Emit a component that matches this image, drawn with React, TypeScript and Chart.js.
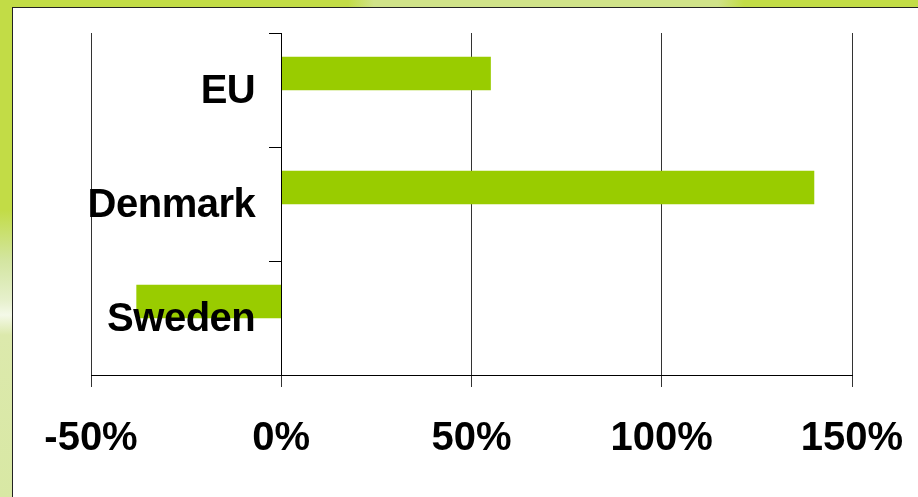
import React, { useEffect, useRef } from "react";
import { Chart, registerables } from "chart.js";

Chart.register(...registerables);

const categories = ["EU", "Denmark", "Sweden"];
const changeValues = [55, 140, -38];
const spacerValues: (number | null)[] = [null, null, null];
const xTickValues = [-50, 0, 50, 100, 150];

const fontFamily = "'Liberation Sans', Arial, sans-serif";
const labelFont = { family: fontFamily, size: 40, weight: "bold" as const };

// Category labels drawn left of the value-axis origin (axis crosses at 0 %), on top of the bars
const categoryLabelPlugin = {
  id: "categoryLabels",
  afterDatasetsDraw(chart: any) {
    const { ctx, scales } = chart;
    const x = scales.x;
    const y = scales.y;
    const right = x.getPixelForValue(0) - 12 - 14;
    ctx.save();
    ctx.font = `bold 40px ${fontFamily}`;
    try {
      (ctx as any).letterSpacing = "-0.5px";
    } catch (e) {}
    ctx.fillStyle = "#000";
    ctx.textAlign = "right";
    ctx.textBaseline = "middle";
    categories.forEach((c, i) => {
      ctx.fillText(c, right, y.getPixelForValue(i) + 2);
    });
    ctx.restore();
  },
};

export default function App() {
  const ref = useRef<HTMLCanvasElement>(null);

  useEffect(() => {
    document.body.style.margin = "0";
    const chart = new Chart(ref.current!, {
      type: "bar",
      data: {
        labels: categories,
        datasets: [
          {
            data: changeValues,
            backgroundColor: "#99cc00",
            borderWidth: 0,
            barThickness: 33,
          },
          {
            data: spacerValues as any,
            backgroundColor: "rgba(0,0,0,0)",
            borderWidth: 0,
            barThickness: 33,
          },
        ],
      },
      plugins: [categoryLabelPlugin],
      options: {
        indexAxis: "y",
        responsive: false,
        animation: false,
        events: [],
        layout: { padding: { left: 91, right: 66, top: 33, bottom: 0 } },
        plugins: { legend: { display: false }, tooltip: { enabled: false } },
        scales: {
          x: {
            type: "linear",
            min: xTickValues[0],
            max: xTickValues[xTickValues.length - 1],
            afterBuildTicks: (scale: any) => {
              scale.ticks = xTickValues.map((v) => ({ value: v }));
            },
            afterFit: (scale: any) => {
              scale.height = 122;
              scale.paddingLeft = 0;
              scale.paddingRight = 0;
            },
            ticks: {
              callback: (v: any) => v + "%",
              font: labelFont,
              color: "#000",
              padding: 28,
              maxRotation: 0,
              autoSkip: false,
            },
            grid: { color: "#333", lineWidth: 1, tickLength: 12, drawTicks: true },
            border: { color: "#000", width: 1 },
          },
          y: {
            type: "category",
            position: { x: 0 } as any,
            offset: true,
            afterFit: (scale: any) => {
              scale.paddingTop = 0;
              scale.paddingBottom = 0;
            },
            grid: { offset: true, drawOnChartArea: false, drawTicks: true, tickLength: 12, color: "#000" },
            border: { color: "#000", width: 1, z: 1 },
            ticks: { display: false },
          },
        },
      },
    });
    return () => chart.destroy();
  }, []);

  return (
    <div style={{ position: "absolute", left: 0, top: 0, width: 918, height: 497, overflow: "hidden" }}>
      <div
        style={{
          position: "absolute",
          left: 0,
          top: 0,
          width: 918,
          height: 8,
          background:
            "linear-gradient(to right, #c2dc46 0px, #c2dc46 348px, #d0e389 374px, #d0e389 718px, #c2dc46 744px, #c2dc46 918px)",
        }}
      />
      <div
        style={{
          position: "absolute",
          left: 0,
          top: 0,
          width: 13,
          height: 497,
          background:
            "linear-gradient(to bottom, #c2dc46 0px, #c2dc46 210px, #d3e5a0 260px, #e6f0cc 300px, #f4f9e8 315px, #dce9ac 335px, #d8e8a4 497px)",
        }}
      />
      <div
        style={{
          position: "absolute",
          left: 12,
          top: 7,
          right: 0,
          bottom: 0,
          background: "#fff",
          borderLeft: "1px solid #222",
          borderTop: "1px solid #222",
        }}
      />
      <canvas ref={ref} width={918} height={497} style={{ position: "absolute", left: 0, top: 0 }} />
    </div>
  );
}
